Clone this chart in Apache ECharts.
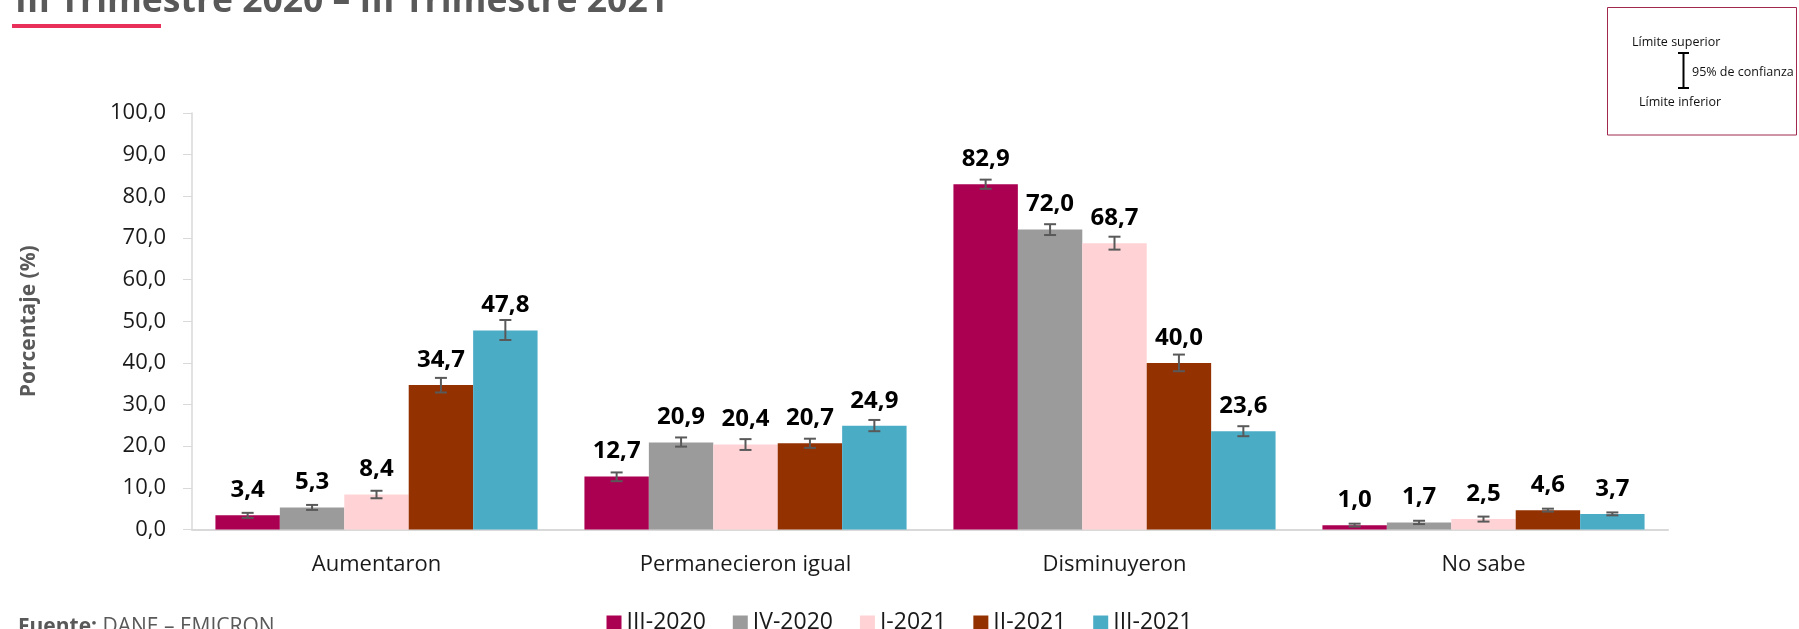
<!DOCTYPE html>
<html>
<head>
<meta charset="utf-8">
<script src="https://cdn.jsdelivr.net/npm/echarts@6/dist/echarts.min.js"></script>
<style>
  html, body { margin: 0; padding: 0; background: #fff; }
  #chart { width: 1799px; height: 629px; }
</style>
</head>
<body>
<div id="chart"></div>
<script>
// Respuestas por trimestre, con intervalo de confianza al 95 %.
const categories = ["Aumentaron", "Permanecieron igual", "Disminuyeron", "No sabe"];
const periods = ["III-2020", "IV-2020", "I-2021", "II-2021", "III-2021"];
const colors = ["#AB0052", "#9B9B9B", "#FFD3D5", "#943100", "#4BACC6"];

const values = [
  [3.4, 12.7, 82.9, 1.0],   // III-2020
  [5.3, 20.9, 72.0, 1.7],   // IV-2020
  [8.4, 20.4, 68.7, 2.5],   // I-2021
  [34.7, 20.7, 40.0, 4.6],  // II-2021
  [47.8, 24.9, 23.6, 3.7],  // III-2021
];
const lower = [
  [2.8, 11.6, 81.8, 0.7],
  [4.7, 19.9, 70.7, 1.3],
  [7.5, 19.1, 67.2, 1.9],
  [32.9, 19.6, 38.0, 4.3],
  [45.5, 23.6, 22.4, 3.4],
];
const upper = [
  [4.0, 13.7, 84.0, 1.4],
  [5.9, 22.1, 73.3, 2.1],
  [9.3, 21.7, 70.3, 3.1],
  [36.4, 21.8, 42.0, 5.0],
  [50.3, 26.3, 24.8, 4.1],
];
const yTicks = { min: 0, max: 100, interval: 10 };

const FONT = "Open Sans";
const CAT_GAP = 0.127;
const fmt = (v) => v.toFixed(1).replace(".", ",");

const errData = [];
periods.forEach((p, s) => {
  categories.forEach((c, i) => errData.push([i, lower[s][i], upper[s][i], s]));
});

function renderErr(params, api) {
  const cat = api.value(0);
  const s = api.value(3);
  const band = api.size([1, 0])[0];
  const barW = band * (1 - CAT_GAP) / periods.length;
  const cx = api.coord([cat, 0])[0] + (s - (periods.length - 1) / 2) * barW;
  const yLo = api.coord([cat, api.value(1)])[1];
  const yHi = api.coord([cat, api.value(2)])[1];
  const hw = 6;
  const st = { stroke: "#595959", lineWidth: 2 };
  return {
    type: "group",
    children: [
      { type: "line", shape: { x1: cx, y1: yHi, x2: cx, y2: yLo }, style: st },
      { type: "line", shape: { x1: cx - hw, y1: yHi, x2: cx + hw, y2: yHi }, style: st },
      { type: "line", shape: { x1: cx - hw, y1: yLo, x2: cx + hw, y2: yLo }, style: st },
    ],
  };
}

const barSeries = periods.map((p, s) => ({
  name: p,
  type: "bar",
  data: values[s],
  barGap: "0%",
  barCategoryGap: (CAT_GAP * 100) + "%",
  itemStyle: { color: colors[s] },
  label: {
    show: true,
    position: "top",
    distance: 13,
    formatter: (d) => fmt(d.value),
    fontFamily: FONT,
    fontWeight: "bold",
    fontSize: 24,
    color: "#000",
  },
}));

const chart = echarts.init(document.getElementById("chart"));
chart.setOption({
  animation: false,
  textStyle: { fontFamily: FONT },
  grid: { left: 192, right: 131, top: 113, bottom: 99.5, containLabel: false },
  legend: {
    data: periods,
    left: "center",
    top: 606,
    icon: "rect",
    itemWidth: 15,
    itemHeight: 14,
    itemGap: 27,
    textStyle: { fontFamily: FONT, fontSize: 23, color: "#1a1a1a" },
  },
  xAxis: {
    type: "category",
    data: categories,
    axisLine: { lineStyle: { color: "#d9d9d9", width: 2 } },
    axisTick: { show: false },
    axisLabel: { fontFamily: FONT, fontSize: 22, color: "#1a1a1a", margin: 24 },
  },
  yAxis: {
    type: "value",
    min: yTicks.min,
    max: yTicks.max,
    interval: yTicks.interval,
    name: "Porcentaje (%)",
    nameLocation: "middle",
    nameRotate: 90,
    nameGap: 152,
    nameTextStyle: { fontFamily: FONT, fontWeight: "bold", fontSize: 21, color: "#595959" },
    axisLine: { show: true, lineStyle: { color: "#d9d9d9", width: 1.5 } },
    axisTick: { show: true, length: 9, lineStyle: { color: "#d9d9d9" } },
    splitLine: { show: false },
    axisLabel: { fontFamily: FONT, fontSize: 22, color: "#1a1a1a", margin: 26, formatter: fmt },
  },
  series: [
    ...barSeries,
    {
      type: "custom",
      name: "IC 95%",
      renderItem: renderErr,
      data: errData,
      encode: { x: 0, y: [1, 2] },
      z: 5,
      silent: true,
    },
  ],
  graphic: [
    {
      type: "text", left: 15, top: -16,
      style: { text: "III Trimestre 2020 – III Trimestre 2021", fontFamily: FONT, fontWeight: "bold", fontSize: 35.5, fill: "#595959" },
    },
    { type: "rect", shape: { x: 12, y: 24, width: 149, height: 4 }, style: { fill: "#E8305A" } },
    {
      type: "text", left: 18, top: 617,
      style: {
        text: "{b|Fuente:} DANE – EMICRON",
        fontFamily: FONT, fontSize: 21, fill: "#595959",
        rich: { b: { fontFamily: FONT, fontSize: 21, fontWeight: "bold", fill: "#595959" } },
      },
    },
    // recuadro explicativo del intervalo de confianza
    { type: "rect", shape: { x: 1607.5, y: 7.5, width: 189, height: 127.5 }, style: { fill: "#fff", stroke: "#A0284F", lineWidth: 1 } },
    { type: "text", x: 1632, y: 42, style: { text: "Límite superior", fontFamily: FONT, fontSize: 12.5, fill: "#111", verticalAlign: "middle" } },
    { type: "text", x: 1692, y: 72, style: { text: "95% de confianza", fontFamily: FONT, fontSize: 12.5, fill: "#111", verticalAlign: "middle" } },
    { type: "text", x: 1639, y: 102, style: { text: "Límite inferior", fontFamily: FONT, fontSize: 12.5, fill: "#111", verticalAlign: "middle" } },
    { type: "line", shape: { x1: 1683.5, y1: 53, x2: 1683.5, y2: 88 }, style: { stroke: "#000", lineWidth: 2 } },
    { type: "line", shape: { x1: 1678, y1: 53, x2: 1689, y2: 53 }, style: { stroke: "#000", lineWidth: 2 } },
    { type: "line", shape: { x1: 1678, y1: 88, x2: 1689, y2: 88 }, style: { stroke: "#000", lineWidth: 2 } },
  ],
});
window.addEventListener("resize", () => chart.resize());
</script>
</body>
</html>
